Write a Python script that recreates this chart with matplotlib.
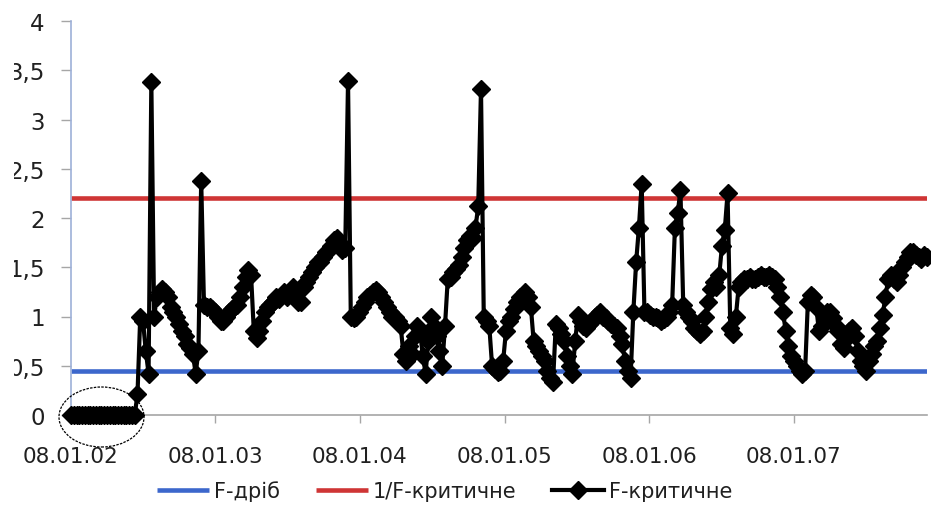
import matplotlib
matplotlib.use("Agg")
import matplotlib.pyplot as plt
import matplotlib.dates as mdates
from matplotlib.patches import Ellipse, Rectangle
import pandas as pd

# Weekly series, starting 08.01.2002
start_date = "2002-01-08"
f_critical = [
    0, 0, 0, 0, 0, 0, 0, 0, 0, 0, 0, 0, 0, 0, 0, 0, 0, 0, 0, 0, 0, 0, 0, 0,
    0.21, 1.0, 0.95, 0.65, 0.42, 3.38, 1.0, 1.2, 1.25, 1.28, 1.25, 1.2, 1.1,
    1.05, 1.0, 0.92, 0.85, 0.8, 0.72, 0.68, 0.62, 0.42, 0.65, 2.38, 1.12,
    1.1, 1.1, 1.08, 1.05, 1.0, 0.95, 0.95, 1.0, 1.05, 1.08, 1.1, 1.12,
    1.2, 1.3, 1.4, 1.47, 1.42,
    0.85, 0.78, 0.85, 0.95, 1.05, 1.1, 1.12, 1.15, 1.2, 1.18, 1.22, 1.25,
    1.2, 1.25, 1.3, 1.2, 1.15, 1.15,
    1.3, 1.35, 1.4, 1.45, 1.5, 1.55, 1.55, 1.6, 1.65, 1.68, 1.72, 1.78,
    1.8, 1.72, 1.68, 1.7,
    3.39,
    1.0, 0.98, 1.0, 1.05, 1.1, 1.15, 1.2, 1.22, 1.25, 1.27, 1.25, 1.2, 1.15,
    1.1, 1.05, 1.0, 1.0, 0.95, 0.9,
    0.62, 0.55, 0.7, 0.62, 0.8, 0.9, 0.85, 0.6, 0.42, 0.75, 1.0, 0.9, 0.8,
    0.65, 0.5, 0.9,
    1.38, 1.4, 1.45, 1.48, 1.52, 1.6, 1.7, 1.78, 1.82, 1.8, 1.9, 2.12,
    3.31,
    1.0, 0.95, 0.9, 0.5, 0.47, 0.44, 0.45, 0.55, 0.85, 0.95, 1.0, 1.08,
    1.15, 1.2, 1.22, 1.25, 1.2, 1.1,
    0.75, 0.7, 0.65, 0.6, 0.55, 0.45, 0.38, 0.33, 0.92, 0.88, 0.82, 0.75,
    0.6, 0.5, 0.42, 0.75,
    1.02, 0.95, 0.9, 0.88, 0.92, 0.95, 1.0, 1.02, 1.05, 1.0, 0.98, 0.95,
    0.92, 0.9, 0.88, 0.8, 0.72, 0.55,
    0.45, 0.38, 1.05, 1.55, 1.9, 2.35, 1.05,
    1.05, 1.02, 1.0, 1.0, 0.98, 0.95, 0.97, 1.0, 1.05, 1.12, 1.9, 2.05, 2.28,
    1.12, 1.05, 1.0, 0.95, 0.88, 0.85, 0.82, 0.85, 1.0, 1.15, 1.28, 1.35,
    1.3, 1.42, 1.72, 1.88, 2.25,
    0.88, 0.82, 1.0, 1.3, 1.35, 1.38, 1.38, 1.4, 1.38, 1.38, 1.4, 1.42, 1.4,
    1.4, 1.42, 1.4, 1.38, 1.3, 1.2, 1.05,
    0.85, 0.7, 0.6, 0.55, 0.5, 0.45, 0.42, 0.45,
    1.15, 1.22, 1.2, 1.1, 0.85, 0.9, 1.0, 1.05, 1.05, 0.98, 0.9, 0.85, 0.72,
    0.68, 0.78, 0.85, 0.88, 0.8, 0.65, 0.55, 0.5, 0.45,
    0.55, 0.62, 0.7, 0.75, 0.88, 1.02, 1.2, 1.38, 1.42, 1.38, 1.35, 1.42,
    1.5, 1.55, 1.6, 1.65, 1.65, 1.62, 1.6, 1.58, 1.62, 1.6,
]
f_drib_level = 0.45
inv_f_critical_level = 2.2

tick_dates = ["2002-01-08", "2003-01-08", "2004-01-08",
              "2005-01-08", "2006-01-08", "2007-01-08"]
tick_labels = ["08.01.02", "08.01.03", "08.01.04",
               "08.01.05", "08.01.06", "08.01.07"]
y_ticks = [0, 0.5, 1, 1.5, 2, 2.5, 3, 3.5, 4]
y_labels = ["0", "0,5", "1", "1,5", "2", "2,5", "3", "3,5", "4"]

series_names = ["F-дріб", "1/F-критичне", "F-критичне"]

dates = pd.date_range(start_date, periods=len(f_critical), freq="7D")

W, H = 931, 506
fig = plt.figure(figsize=(W / 100, H / 100), dpi=100)
fig.patch.set_facecolor("white")
plt.rcParams["font.family"] = ["DejaVu Sans"]

ax = fig.add_axes([71 / W, 1 - 416 / H, (927 - 71) / W, (416 - 22) / H])

ax.plot([dates[0], dates[-1]], [f_drib_level] * 2, color="#3C67CC",
        lw=3.3, solid_capstyle="butt", label=series_names[0], zorder=2)
ax.plot([dates[0], dates[-1]], [inv_f_critical_level] * 2, color="#CF3535",
        lw=3.3, solid_capstyle="butt", label=series_names[1], zorder=2)
ax.plot(dates, f_critical, color="black", lw=3.0, marker="D", ms=9.5,
        mfc="black", mec="black", label=series_names[2], zorder=3,
        clip_on=False)

ax.set_ylim(0, 4)
ax.set_xlim(dates[0], dates[-1])
ax.set_yticks(y_ticks)
ax.set_yticklabels(y_labels)
ax.set_xticks(mdates.datestr2num(tick_dates))
ax.set_xticklabels(tick_labels)

for s in ["top", "right"]:
    ax.spines[s].set_visible(False)
ax.spines["left"].set_color("#9DB0D8")
ax.spines["bottom"].set_color("#A6A6A6")
ax.spines["left"].set_linewidth(1.2)
ax.spines["bottom"].set_linewidth(1.2)

ax.tick_params(axis="y", length=7, width=1, color="#A6A6A6", pad=12,
               labelsize=16.5, labelcolor="#202020")
ax.tick_params(axis="x", length=6, width=1, color="#A6A6A6", pad=16,
               labelsize=15.5, labelcolor="#202020")

# Ellipse marking the initial zero stretch
ell = Ellipse((101.5 / W, 1 - 418 / H), 85 / W, 60 / H,
              transform=fig.transFigure, fill=False, edgecolor="black",
              lw=0.9, linestyle=(0, (2, 1)), zorder=5)
fig.add_artist(ell)

# Narrow white margin along the left edge of the canvas
fig.add_artist(Rectangle((0, 0), 14 / W, 1, transform=fig.transFigure,
                         facecolor="white", edgecolor="none", zorder=10))

fig.legend(loc="center", bbox_to_anchor=(445 / W, 1 - 492 / H),
           ncol=3, frameon=False, fontsize=15, handlelength=2.5,
           handletextpad=0.25, columnspacing=1.7, labelcolor="#202020")

fig.savefig("out.png", dpi=100)
